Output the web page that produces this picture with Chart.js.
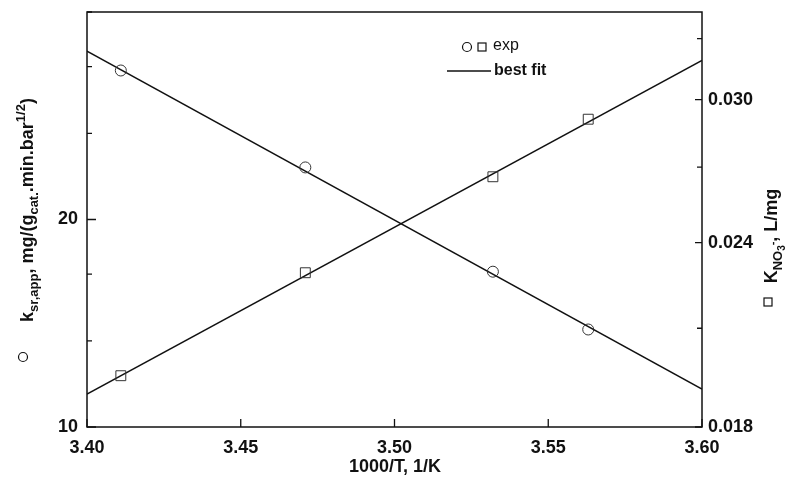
<!DOCTYPE html>
<html>
<head>
<meta charset="utf-8">
<script src="https://cdn.jsdelivr.net/npm/chart.js@4.4.1/dist/chart.umd.min.js"></script>
<style>
  html, body { margin: 0; padding: 0; background: #fff; }
  #wrap { width: 785px; height: 489px; position: relative; }
</style>
</head>
<body>
<div id="wrap"><canvas id="arrhenius"></canvas></div>
<script>
// 1000/T values of the four runs
const invTemp = [3.411, 3.471, 3.532, 3.563];
// k_sr,app (left, log axis) and K_NO3- (right, log axis)
const kApp = [32.9, 23.8, 16.8, 13.85];
const kNitrate = [0.0195, 0.0229, 0.0266, 0.0291];
// best fit lines, evaluated at the ends of the x range
const fitX = [3.40, 3.60];
const kAppFit = [35.1, 11.35];
const kNitrateFit = [0.01895, 0.0319];

const xTicks = [3.40, 3.45, 3.50, 3.55, 3.60];
const leftTicks = [10, 13.333, 16.667, 20, 26.667, 33.333, 40];
const leftLabels = { 10: '10', 20: '20' };
const rightTicks = [0.018, 0.021, 0.024, 0.027, 0.030, 0.033];
const rightLabels = [0.018, 0.024, 0.030];

const tickFont = { family: "'Liberation Sans', Arial, sans-serif", size: 18, weight: 'bold' };
const ink = '#111';

function pts (xs, ys) {
  return xs.map((x, i) => ({ x, y: ys[i] }));
}

// fixed axis width, no extra room for the end labels
function fixWidth (w) {
  return scale => {
    scale.width = w;
    scale.paddingTop = 0;
    scale.paddingBottom = 0;
  };
}

// inward tick marks and the closed frame
const frame = {
  id: 'frame',
  afterDatasetsDraw (chart) {
    const { ctx, chartArea: a, scales } = chart;
    ctx.save();
    ctx.strokeStyle = ink;
    ctx.lineWidth = 1.5;
    ctx.strokeRect(a.left, a.top, a.right - a.left, a.bottom - a.top);
    ctx.lineWidth = 1.3;
    ctx.beginPath();
    xTicks.forEach(v => {
      const px = scales.x.getPixelForValue(v);
      ctx.moveTo(px, a.bottom);
      ctx.lineTo(px, a.bottom - 8);
    });
    leftTicks.forEach(v => {
      const py = scales.y.getPixelForValue(v);
      const len = leftLabels[v] ? 9 : 5;
      ctx.moveTo(a.left, py);
      ctx.lineTo(a.left + len, py);
    });
    rightTicks.forEach(v => {
      const py = scales.y1.getPixelForValue(v);
      const len = rightLabels.includes(v) ? 7 : 5;
      ctx.moveTo(a.right, py);
      ctx.lineTo(a.right - len, py);
    });
    ctx.stroke();
    ctx.restore();
  }
};

function drawRuns (ctx, runs, x, y, angle) {
  ctx.save();
  ctx.translate(x, y);
  ctx.rotate(angle);
  ctx.textBaseline = 'alphabetic';
  ctx.fillStyle = ink;
  let total = 0;
  runs.forEach(r => {
    ctx.font = `bold ${r.size}px 'Liberation Sans', Arial, sans-serif`;
    r.w = ctx.measureText(r.t).width;
    total += r.w;
  });
  let cx = -total / 2;
  runs.forEach(r => {
    ctx.font = `bold ${r.size}px 'Liberation Sans', Arial, sans-serif`;
    ctx.fillText(r.t, cx, r.dy || 0);
    cx += r.w;
  });
  ctx.restore();
}

// axis titles (with sub/superscripts) and the legend
const titles = {
  id: 'titles',
  afterDraw (chart) {
    const { ctx } = chart;
    drawRuns(ctx, [{ t: '1000/T, 1/K', size: 18 }], 395, 472, 0);

    drawRuns(ctx, [
      { t: 'k', size: 18 },
      { t: 'sr,app', size: 13, dy: 5 },
      { t: ', mg/(g', size: 18 },
      { t: 'cat.', size: 13, dy: 5 },
      { t: '.min.bar', size: 18 },
      { t: '1/2', size: 13, dy: -8 },
      { t: ')', size: 18 }
    ], 33, 210, -Math.PI / 2);

    drawRuns(ctx, [
      { t: 'K', size: 18 },
      { t: 'NO', size: 13, dy: 5 },
      { t: '3', size: 10, dy: 8 },
      { t: '-', size: 11, dy: -1 },
      { t: ', L/mg', size: 18 }
    ], 777, 236, -Math.PI / 2);

    ctx.save();
    ctx.strokeStyle = ink;
    ctx.lineWidth = 1.2;
    ctx.beginPath();
    ctx.arc(23, 357, 4.5, 0, Math.PI * 2);
    ctx.stroke();
    ctx.strokeRect(764, 298, 8, 8);

    // legend
    ctx.beginPath();
    ctx.arc(467, 47, 4.5, 0, Math.PI * 2);
    ctx.stroke();
    ctx.strokeRect(478, 43, 8, 8);
    ctx.lineWidth = 1.5;
    ctx.beginPath();
    ctx.moveTo(447, 71);
    ctx.lineTo(491, 71);
    ctx.stroke();
    ctx.fillStyle = ink;
    ctx.textBaseline = 'middle';
    ctx.font = "16px 'Liberation Sans', Arial, sans-serif";
    ctx.fillText('exp', 493, 46);
    ctx.font = "bold 16px 'Liberation Sans', Arial, sans-serif";
    ctx.fillText('best fit', 494, 71);
    ctx.restore();
  }
};

// eslint-disable-next-line no-undef
const chart = new Chart('arrhenius', {
  type: 'scatter',
  data: {
    datasets: [
      { data: pts(invTemp, kApp), yAxisID: 'y', pointStyle: 'circle', pointRadius: 5.5, borderColor: '#333', backgroundColor: 'rgba(0,0,0,0)', borderWidth: 1 },
      { data: pts(invTemp, kNitrate), yAxisID: 'y1', pointStyle: 'rect', pointRadius: 7, borderColor: '#333', backgroundColor: 'rgba(0,0,0,0)', borderWidth: 1 },
      { data: pts(fitX, kAppFit), yAxisID: 'y', showLine: true, pointRadius: 0, borderColor: ink, borderWidth: 1.5 },
      { data: pts(fitX, kNitrateFit), yAxisID: 'y1', showLine: true, pointRadius: 0, borderColor: ink, borderWidth: 1.5 }
    ]
  },
  options: {
    responsive: true,
    maintainAspectRatio: false,
    animation: false,
    layout: { padding: { top: 12 } },
    plugins: { legend: { display: false }, tooltip: { enabled: false } },
    scales: {
      x: {
        type: 'linear',
        min: 3.40,
        max: 3.60,
        afterBuildTicks: scale => { scale.ticks = xTicks.map(value => ({ value })); },
        afterFit: scale => { scale.height = 62; scale.paddingLeft = 0; scale.paddingRight = 0; },
        ticks: { font: tickFont, color: ink, padding: 10, maxRotation: 0, callback: v => v.toFixed(2) },
        grid: { display: false, drawTicks: false },
        border: { display: false }
      },
      y: {
        type: 'logarithmic',
        position: 'left',
        min: 10,
        max: 40,
        afterBuildTicks: scale => { scale.ticks = leftTicks.map(value => ({ value })); },
        afterFit: fixWidth(87),
        ticks: { font: tickFont, color: ink, padding: 9, callback: v => leftLabels[v] || '' },
        grid: { display: false, drawTicks: false },
        border: { display: false }
      },
      y1: {
        type: 'logarithmic',
        position: 'right',
        min: 0.018,
        max: 0.0344,
        afterBuildTicks: scale => { scale.ticks = rightTicks.map(value => ({ value })); },
        afterFit: fixWidth(83),
        ticks: { font: tickFont, color: ink, padding: 6, callback: v => rightLabels.includes(v) ? v.toFixed(3) : '' },
        grid: { display: false, drawTicks: false },
        border: { display: false }
      }
    }
  },
  plugins: [frame, titles]
});
</script>
</body>
</html>
